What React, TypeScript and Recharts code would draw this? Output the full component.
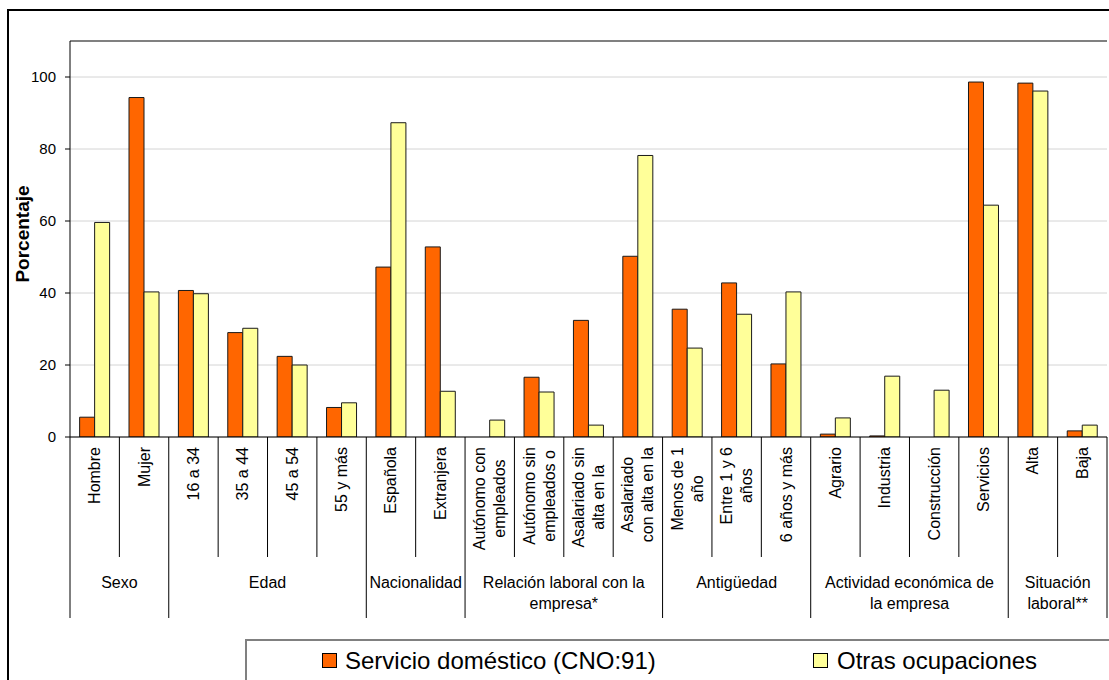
import React from 'react';
import { BarChart, Bar, XAxis, YAxis, CartesianGrid, ReferenceLine, Legend } from 'recharts';

const categories = ['Hombre', 'Mujer', '16 a 34', '35 a 44', '45 a 54', '55 y más', 'Española', 'Extranjera', 'Autónomo con empleados', 'Autónomo sin empleados o', 'Asalariado sin alta en la', 'Asalariado con alta en la', 'Menos de 1 año', 'Entre 1 y 6 años', '6 años y más', 'Agrario', 'Industria', 'Construcción', 'Servicios', 'Alta', 'Baja'];
const categoryLines = [['Hombre'], ['Mujer'], ['16 a 34'], ['35 a 44'], ['45 a 54'], ['55 y más'], ['Española'], ['Extranjera'], ['Autónomo con', 'empleados'], ['Autónomo sin', 'empleados o'], ['Asalariado sin', 'alta en la'], ['Asalariado', 'con alta en la'], ['Menos de 1', 'año'], ['Entre 1 y 6', 'años'], ['6 años y más'], ['Agrario'], ['Industria'], ['Construcción'], ['Servicios'], ['Alta'], ['Baja']];
const groupLabels = [['Sexo'], ['Edad'], ['Nacionalidad'], ['Relación laboral con la', 'empresa*'], ['Antigüedad'], ['Actividad económica de', 'la empresa'], ['Situación', 'laboral**']];
const groupSizes = [2, 4, 2, 4, 3, 4, 2];
const servicioDomestico = [5.5, 94.3, 40.7, 29.0, 22.4, 8.2, 47.2, 52.8, 0, 16.6, 32.4, 50.2, 35.5, 42.8, 20.3, 0.8, 0.3, 0, 98.6, 98.3, 1.7];
const otrasOcupaciones = [59.6, 40.3, 39.8, 30.2, 20.0, 9.5, 87.3, 12.7, 4.7, 12.5, 3.3, 78.2, 24.7, 34.1, 40.3, 5.3, 16.9, 13.0, 64.4, 96.1, 3.3];
const yTicks = [0, 20, 40, 60, 80, 100];
const seriesNames = ['Servicio doméstico (CNO:91)', 'Otras ocupaciones'];
const seriesColors = ['#FF6600', '#FFFF99'];

const data = categories.map((c, i) => ({
  cat: c,
  dom: servicioDomestico[i],
  otr: otrasOcupaciones[i],
}));

const groupStartMap: Record<number, number> = {};
{
  let s = 0;
  groupSizes.forEach((n, g) => {
    groupStartMap[s] = g;
    s += n;
  });
}

const FONT = '"Liberation Sans", Arial, sans-serif';
let ctx: CanvasRenderingContext2D | null = null;
function measure(text: string, size: number) {
  if (!ctx) {
    const c = document.createElement('canvas');
    ctx = c.getContext('2d');
  }
  if (!ctx) return text.length * size * 0.5;
  ctx.font = `${size}px "Liberation Sans", Arial, sans-serif`;
  return ctx.measureText(text).width;
}

const CAT_FS = 16;
const LH = 20;

function CategoryTick(props: any) {
  const { x, y, payload } = props;
  const idx: number = payload.index ?? props.index;
  const half: number = payload.offset ?? 1037 / 21 / 2;
  const band = half * 2;
  const left = x - half;
  const els: any[] = [];
  const isGroupStart = groupStartMap[idx] !== undefined;
  els.push(<line key="sep" x1={left} x2={left} y1={y} y2={y + (isGroupStart ? 181 : 120)} stroke="#000" strokeWidth={1} />);
  if (idx === categories.length - 1) {
    els.push(<line key="sepr" x1={x + half} x2={x + half} y1={y} y2={y + 181} stroke="#000" strokeWidth={1} />);
  }
  const lines = categoryLines[idx];
  const n = lines.length;
  const maxW = Math.max(...lines.map((l) => measure(l, CAT_FS)));
  const cy = y + 10 + maxW / 2;
  lines.forEach((l, i) => {
    const lx = x + (i - (n - 1) / 2) * LH;
    els.push(
      <text key={'l' + i} x={lx} y={cy} transform={`rotate(-90 ${lx} ${cy})`} textAnchor="middle" dominantBaseline="central" fontSize={CAT_FS} fill="#000" fontFamily={FONT}>
        {l}
      </text>
    );
  });
  if (isGroupStart) {
    const g = groupStartMap[idx];
    const cx = left + (groupSizes[g] * band) / 2;
    groupLabels[g].forEach((l, i) => {
      els.push(
        <text key={'g' + i} x={cx} y={y + 145 + i * 21} textAnchor="middle" dominantBaseline="central" fontSize={CAT_FS} fill="#000" fontFamily={FONT}>
          {l}
        </text>
      );
    });
  }
  return <g>{els}</g>;
}

function YLabel(props: any) {
  const lx = 22;
  const ly = 234;
  return (
    <text x={lx} y={ly} transform={`rotate(-90 ${lx} ${ly})`} textAnchor="middle" dominantBaseline="central" fontSize={19} fontWeight="bold" fill="#000" fontFamily={FONT}>
      Porcentaje
    </text>
  );
}

function LegendContent() {
  const xs = [[75, 98], [566, 590]];
  return (
    <div style={{ position: 'relative', width: '100%', height: '100%', fontFamily: FONT }}>
      {seriesNames.map((name, i) => (
        <React.Fragment key={name}>
          <div style={{ position: 'absolute', left: xs[i][0], top: 12, width: 13, height: 13, background: seriesColors[i], border: '1px solid #000' }} />
          <div style={{ position: 'absolute', left: xs[i][1], top: 6, fontSize: 24, lineHeight: '28px', color: '#000', whiteSpace: 'nowrap' }}>{name}</div>
        </React.Fragment>
      ))}
    </div>
  );
}

export default function App() {
  return (
    <div style={{ position: 'absolute', left: 0, top: 0, width: 1109, height: 680, overflow: 'hidden', background: '#fff' }}>
      <style>{`body{margin:0;overflow:hidden;}`}</style>
      <div style={{ position: 'absolute', left: 7, top: 9, width: 1102, height: 671, borderTop: '2px solid #000', borderLeft: '2px solid #000', boxSizing: 'border-box' }} />
      <div style={{ position: 'absolute', left: 0, top: 0 }}>
        <BarChart
          width={1109}
          height={680}
          data={data}
          margin={{ top: 41, right: 2, left: 10, bottom: 43 }}
          barCategoryGap="19.5%"
          barGap={0}
          style={{ fontFamily: FONT }}
        >
          <CartesianGrid vertical={false} stroke="#D4D4D4" strokeWidth={1} />
          <ReferenceLine y={110} stroke="#808080" strokeWidth={2} />
          <XAxis
            dataKey="cat"
            interval={0}
            height={200}
            tickSize={0}
            tickMargin={0}
            tickLine={false}
            axisLine={{ stroke: '#000', strokeWidth: 1 }}
            tick={<CategoryTick />}
          />
          <YAxis
            domain={[0, 110]}
            ticks={yTicks}
            width={60}
            tickSize={5}
            tickMargin={9}
            axisLine={{ stroke: '#000', strokeWidth: 1 }}
            tickLine={{ stroke: '#000' }}
            tick={{ fontSize: 15, fill: '#000', fontFamily: FONT }}
            allowDataOverflow
            label={<YLabel />}
          />
          <YAxis yAxisId="r" orientation="right" domain={[0, 110]} width={0} tick={false} tickLine={false} axisLine={{ stroke: '#808080', strokeWidth: 2 }} />
          <Bar dataKey="dom" name={seriesNames[0]} fill={seriesColors[0]} stroke="#1a1a1a" strokeWidth={1} isAnimationActive={false} />
          <Bar dataKey="otr" name={seriesNames[1]} fill={seriesColors[1]} stroke="#1a1a1a" strokeWidth={1} isAnimationActive={false} />
          <Legend
            verticalAlign="middle"
            align="center"
            wrapperStyle={{ left: 245, top: 639, width: 864, height: 41, borderTop: '2px solid #808080', borderLeft: '2px solid #808080', boxSizing: 'border-box', background: '#fff' }}
            content={<LegendContent />}
          />
        </BarChart>
      </div>
    </div>
  );
}
